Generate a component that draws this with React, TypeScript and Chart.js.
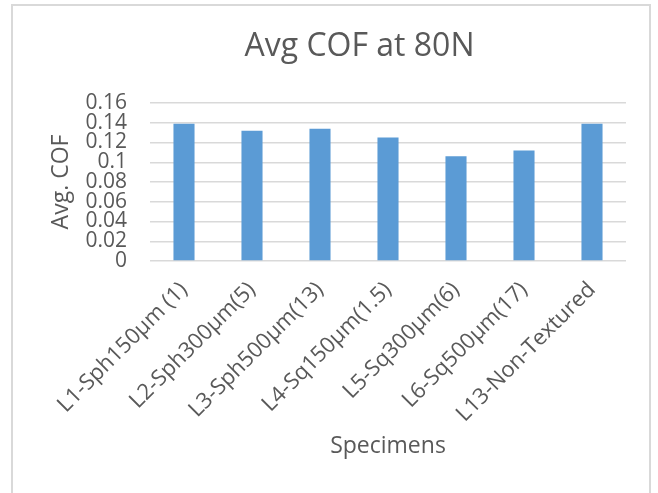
import React, { useEffect, useRef } from "react";
import { Chart, registerables } from "chart.js";

Chart.register(...registerables);

const categories = [
  "L1-Sph150µm (1)",
  "L2-Sph300µm(5)",
  "L3-Sph500µm(13)",
  "L4-Sq150µm(1.5)",
  "L5-Sq300µm(6)",
  "L6-Sq500µm(17)",
  "L13-Non-Textured",
];
const avgCof = [0.139, 0.132, 0.134, 0.125, 0.106, 0.112, 0.139];
const yTicks = [0, 0.02, 0.04, 0.06, 0.08, 0.1, 0.12, 0.14, 0.16];
const chartTitle = "Avg COF at 80N";
const xTitle = "Specimens";
const yTitle = "Avg. COF";

const FONT = "'Open Sans', sans-serif";
const TEXT = "#595959";
const GRID = "#d9d9d9";
const BAR = "#5B9BD5";

const titlePlugin = {
  id: "customTitle",
  afterDraw(chart: any) {
    const ctx = chart.ctx;
    ctx.save();
    ctx.fillStyle = TEXT;
    ctx.font = `32px ${FONT}`;
    ctx.textAlign = "center";
    ctx.textBaseline = "alphabetic";
    ctx.fillText(chartTitle, 359.5, 56);
    ctx.restore();
  },
};

export default function App() {
  const ref = useRef<HTMLCanvasElement>(null);
  useEffect(() => {
    if (!ref.current) return;
    const chart = new Chart(ref.current, {
      type: "bar",
      data: {
        labels: categories,
        datasets: [
          {
            label: yTitle,
            data: avgCof,
            backgroundColor: BAR,
            borderWidth: 0,
            barPercentage: 0.31,
            categoryPercentage: 1,
          },
        ],
      },
      plugins: [titlePlugin],
      options: {
        animation: false,
        responsive: false,
        maintainAspectRatio: false,
        layout: { padding: { left: 0, top: 103, right: 32, bottom: 0 } },
        plugins: {
          legend: { display: false },
          title: { display: false },
          tooltip: { enabled: false },
        },
        scales: {
          x: {
            grid: { display: false, drawTicks: false },
            border: { display: false },
            ticks: {
              autoSkip: false,
              minRotation: 45,
              maxRotation: 45,
              padding: 16,
              color: TEXT,
              font: { family: FONT, size: 22 },
            },
            title: {
              display: true,
              text: xTitle,
              color: TEXT,
              font: { family: FONT, size: 23 },
              padding: { top: 0, bottom: 33 },
            },
            afterFit: (scale: any) => {
              scale.height = 493 - 261;
            },
          },
          y: {
            min: 0,
            max: 0.16,
            grid: { color: GRID, lineWidth: 1.5, drawTicks: false },
            border: { display: false },
            afterBuildTicks: (scale: any) => {
              scale.ticks = yTicks.map((v) => ({ value: v }));
            },
            ticks: {
              autoSkip: false,
              padding: 23,
              color: TEXT,
              font: { family: FONT, size: 21 },
              callback: (v: any) => String(Number(Number(v).toFixed(2))),
            },
            title: {
              display: true,
              text: yTitle,
              color: TEXT,
              font: { family: FONT, size: 23 },
              padding: { top: 48, bottom: 0 },
            },
            afterFit: (scale: any) => {
              scale.width = 150;
            },
          },
        },
      },
    });
    return () => chart.destroy();
  }, []);
  return (
    <div style={{ position: "fixed", left: 0, top: 0, width: 658, height: 493, background: "#fff", overflow: "hidden" }}>
      <div
        style={{
          position: "absolute",
          left: 11,
          top: 4,
          width: 640,
          height: 493,
          borderLeft: "2px solid #d9d9d9",
          borderTop: "2px solid #d9d9d9",
          borderRight: "2px solid #d9d9d9",
          boxSizing: "border-box",
        }}
      />
      <canvas ref={ref} width={658} height={493} style={{ position: "absolute", left: 0, top: 0, width: 658, height: 493 }} />
    </div>
  );
}
